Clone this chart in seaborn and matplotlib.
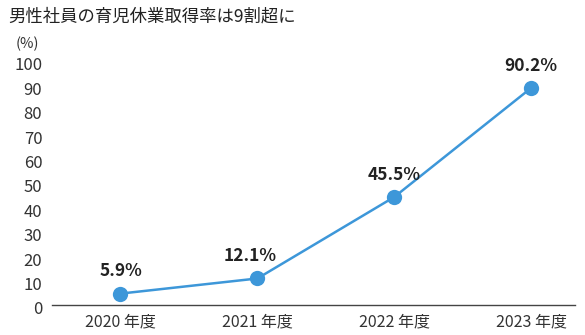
import matplotlib
matplotlib.use("Agg")
import matplotlib.pyplot as plt
import seaborn as sns
import pandas as pd

years = ["2020 年度", "2021 年度", "2022 年度", "2023 年度"]
rates = [5.9, 12.1, 45.5, 90.2]
labels = ["5.9%", "12.1%", "45.5%", "90.2%"]
yticks = [0, 10, 20, 30, 40, 50, 60, 70, 80, 90, 100]
title = "男性社員の育児休業取得率は9割超に"
unit = "(%)"

sns.set_theme(style="white")
plt.rcParams["font.family"] = ["Noto Sans CJK JP", "DejaVu Sans"]

df = pd.DataFrame({"year": years, "rate": rates})

fig = plt.figure(figsize=(5.85, 3.35), dpi=100)
ax = fig.add_axes([52/585, 1-308/335, (575-52)/585, (308-64)/335])

color = "#3d97d9"
sns.lineplot(data=df, x="year", y="rate", ax=ax, color=color, linewidth=1.8,
             marker="o", markersize=11, markeredgewidth=0, sort=False)

ax.set_xlim(-0.5, 3.32)
ax.set_ylim(0, 100)
ax.set_yticks(yticks)
ax.set_yticklabels([str(v) for v in yticks])
ax.set_xlabel("")
ax.set_ylabel("")
for s in ["top", "right", "left"]:
    ax.spines[s].set_visible(False)
ax.spines["bottom"].set_position(("data", 1.2))
ax.spines["bottom"].set_color("#444444")
ax.spines["bottom"].set_linewidth(1.0)
ax.tick_params(axis="y", length=0, pad=7, labelsize=12, labelcolor="#333333")
ax.tick_params(axis="x", length=0, pad=6, labelsize=11.5, labelcolor="#333333")

dx = [0, -5, 0, 0]
for i, (v, lab) in enumerate(zip(rates, labels)):
    ax.annotate(lab, (i, v), xytext=(dx[i], 16), textcoords="offset points",
                ha="center", va="center", fontsize=12.5, fontweight="bold",
                color="#222222")

fig.text(8/585, 1-17/335, title, fontsize=12.5, color="#222222", va="center", ha="left")
fig.text(16/585, 1-44/335, unit, fontsize=10.5, color="#333333", va="center", ha="left")

fig.savefig("out.png", dpi=100)
